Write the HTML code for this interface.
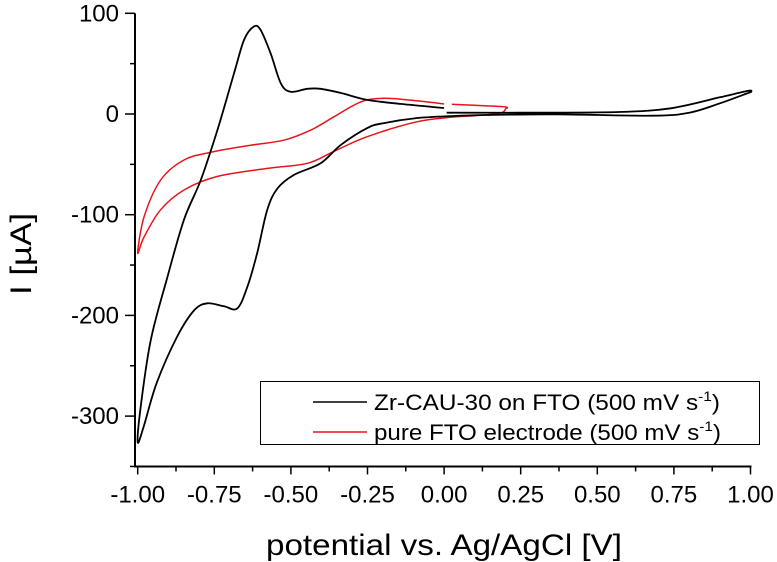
<!DOCTYPE html>
<html><head><meta charset="utf-8"><style>
html,body{margin:0;padding:0;background:#fff;}
svg{display:block;font-family:"Liberation Sans",Arial,sans-serif;}
</style></head><body>
<svg id="chart" width="777" height="562" viewBox="0 0 777 562">
<g id="axes"></g>
<g id="series"></g>
<g>
<rect x="260.5" y="381.5" width="499" height="63" fill="#fff" stroke="#000" stroke-width="1"/>
<line x1="313" y1="402" x2="367" y2="402" stroke="#000" stroke-width="1.5"/>
<text x="374" y="410" font-size="22" textLength="346" lengthAdjust="spacingAndGlyphs">Zr-CAU-30 on FTO (500 mV s<tspan font-size="14" dy="-9">-1</tspan><tspan dy="9">)</tspan></text>
<line x1="313" y1="432" x2="367" y2="432" stroke="#e8141c" stroke-width="1.5"/>
<text x="374" y="440" font-size="22" textLength="347" lengthAdjust="spacingAndGlyphs">pure FTO electrode (500 mV s<tspan font-size="14" dy="-9">-1</tspan><tspan dy="9">)</tspan></text>
</g>
<text x="444" y="555" font-size="30" textLength="356" lengthAdjust="spacingAndGlyphs" text-anchor="middle">potential vs. Ag/AgCl [V]</text>
<text transform="translate(31,254) rotate(-90)" font-size="30" textLength="82" lengthAdjust="spacingAndGlyphs" text-anchor="middle">I [µA]</text>
</svg>
<script>
const xTicks = [-1.00,-0.75,-0.50,-0.25,0.00,0.25,0.50,0.75,1.00];
const xTickLabels = ["-1.00","-0.75","-0.50","-0.25","0.00","0.25","0.50","0.75","1.00"];
const yTicks = [100,0,-100,-200,-300];
const yTickLabels = ["100","0","-100","-200","-300"];
const blackV = [0.008,0.25,0.57,0.74,0.90,0.993,1.0,0.993,0.9,0.80,0.68,0.36,0.14,0.03,-0.087,-0.196,-0.251,-0.338,-0.403,-0.49,-0.544,-0.577,-0.61,-0.642,-0.675,-0.718,-0.773,-0.816,-0.871,-0.938,-0.98,-1.0,-0.99,-0.957,-0.903,-0.849,-0.794,-0.74,-0.686,-0.653,-0.62,-0.598,-0.566,-0.533,-0.501,-0.446,-0.403,-0.338,-0.251,-0.142,0.0];
const blackI = [1.3,1.3,2,5.7,16.6,23,22,21,10.6,1.3,-1.7,-0.3,-1,-2,-4,-9,-14,-31,-49,-60.5,-74,-95,-138,-171.5,-193,-191,-188,-195,-221,-267,-310,-326,-290,-224,-162,-105,-65.5,-16,40,73.5,87,83,60,30.5,22,25,25,21,14,10,6];
const redV = [0.025,0.19,0.2,0.18,0.085,0.03,-0.087,-0.251,-0.359,-0.446,-0.577,-0.74,-0.849,-0.925,-0.979,-1.0,-0.979,-0.925,-0.849,-0.762,-0.631,-0.523,-0.435,-0.359,-0.272,-0.196,-0.087,0.0];
const redI = [9.6,7.3,5,0.7,-2,-3,-7.6,-22.5,-37,-49,-54,-62,-75.5,-95,-122,-138,-102,-65.5,-45.7,-38,-31,-26,-16,-2.7,12,15.6,13,10];

const NS="http://www.w3.org/2000/svg";
const X0=137.7, XS=306.4, Y0=114, YS=1.007;
function xs(v){return X0+(v+1)*XS;}
function ys(i){return Y0-i*YS;}
function mk(tag,attrs,parent){const e=document.createElementNS(NS,tag);for(const k in attrs)e.setAttribute(k,attrs[k]);parent.appendChild(e);return e;}
const ax=document.getElementById('axes');
const axisY=ys(-350), axisX=135;
let l=mk('line',{x1:axisX,y1:ys(100),x2:axisX,y2:axisY,stroke:'#000','stroke-width':2},ax);


l=mk('line',{x1:axisX-1,y1:axisY,x2:xs(1.0)+1,y2:axisY,stroke:'#000','stroke-width':2},ax);


xTicks.forEach((v,k)=>{
  const t=mk('line',{x1:xs(v),y1:axisY,x2:xs(v),y2:axisY+8,stroke:'#000','stroke-width':1.5},ax);
  
  
  if(k<xTicks.length-1){const m=mk('line',{x1:xs(v+0.125),y1:axisY,x2:xs(v+0.125),y2:axisY+5,stroke:'#000','stroke-width':1.5},ax);
  
  }
  const tx=mk('text',{x:xs(v),y:axisY+36,'font-size':24,'text-anchor':'middle'},ax);
  tx.textContent=xTickLabels[k];
  
  
});
yTicks.forEach((v,k)=>{
  const t=mk('line',{x1:axisX-10,y1:ys(v),x2:axisX,y2:ys(v),stroke:'#000','stroke-width':1.5},ax);
  
  
  const m=mk('line',{x1:axisX-5,y1:ys(v-50),x2:axisX,y2:ys(v-50),stroke:'#000','stroke-width':1.5},ax);
  
  
  const tx=mk('text',{x:119,y:ys(v)+8,'font-size':24,'text-anchor':'end'},ax);
  tx.textContent=yTickLabels[k];
  
  
});
function pathFrom(V,I){
  const p=V.map((v,k)=>[xs(v),ys(I[k])]);
  let d='M'+p[0][0].toFixed(1)+','+p[0][1].toFixed(1);
  for(let k=0;k<p.length-1;k++){
    const a=p[Math.max(k-1,0)],b=p[k],c=p[k+1],e=p[Math.min(k+2,p.length-1)];
    const c1=[b[0]+(c[0]-a[0])/6,b[1]+(c[1]-a[1])/6],c2=[c[0]-(e[0]-b[0])/6,c[1]-(e[1]-b[1])/6];
    d+=' C'+c1[0].toFixed(1)+','+c1[1].toFixed(1)+' '+c2[0].toFixed(1)+','+c2[1].toFixed(1)+' '+c[0].toFixed(1)+','+c[1].toFixed(1);
  }
  return d;
}
const sg=document.getElementById('series');
const rp=mk('path',{d:pathFrom(redV,redI),fill:'none',stroke:'#e8141c','stroke-width':1.5,'stroke-linejoin':'round'},sg);


const bp=mk('path',{d:pathFrom(blackV,blackI),fill:'none',stroke:'#000','stroke-width':1.8,'stroke-linejoin':'round'},sg);


</script>
</body></html>
